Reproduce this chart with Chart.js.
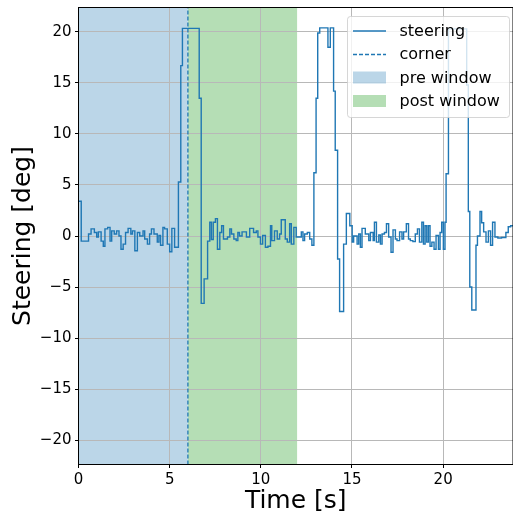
<!DOCTYPE html>
<html>
<head>
<meta charset="utf-8">
<script src="https://cdn.jsdelivr.net/npm/chart.js@4"></script>
<style>
  html, body { margin: 0; padding: 0; background: #fff; }
  #wrap { width: 513px; height: 519px; }
</style>
</head>
<body>
<div id="wrap"><canvas id="steerChart"></canvas></div>
<script>
// steering trace, held between samples (step plot)
const time = [
  0, 0.15, 0.55, 0.69, 0.87, 1.0, 1.09, 1.24, 1.36, 1.45,
  1.6, 1.73, 1.82, 1.96, 2.09, 2.22, 2.33, 2.45, 2.58, 2.72,
  2.87, 2.96, 3.09, 3.23, 3.36, 3.54, 3.63, 3.78, 3.9, 4.0,
  4.14, 4.32, 4.41, 4.5, 4.63, 4.72, 4.87, 5.0, 5.12, 5.27,
  5.48, 5.61, 5.7, 6.62, 6.73, 6.89, 7.08, 7.2, 7.29, 7.39,
  7.51, 7.62, 7.75, 7.85, 7.95, 8.17, 8.3, 8.39, 8.52, 8.65,
  8.74, 8.83, 8.97, 9.21, 9.39, 9.6, 9.75, 9.84, 9.98, 10.1,
  10.25, 10.39, 10.53, 10.6, 10.75, 10.9, 11.03, 11.12, 11.34, 11.45,
  11.58, 11.67, 11.81, 11.94, 12.22, 12.31, 12.4, 12.55, 12.68, 12.8,
  12.91, 13.03, 13.12, 13.23, 13.68, 13.81, 13.99, 14.08, 14.21, 14.32,
  14.54, 14.69, 14.88, 15.01, 15.09, 15.28, 15.37, 15.46, 15.55, 15.73,
  15.92, 16.01, 16.16, 16.23, 16.34, 16.47, 16.56, 16.65, 16.78, 16.89,
  17.01, 17.14, 17.25, 17.38, 17.47, 17.61, 17.74, 17.83, 17.98, 18.1,
  18.2, 18.34, 18.47, 18.59, 18.7, 18.83, 18.92, 19.01, 19.1, 19.19,
  19.28, 19.38, 19.5, 19.61, 19.74, 19.83, 19.92, 20.01, 20.1, 20.16,
  20.29, 21.29, 21.38, 21.46, 21.57, 21.8, 21.88, 22.02, 22.11, 22.22,
  22.35, 22.48, 22.6, 22.71, 22.84, 23.0, 23.2, 23.44, 23.57, 23.7,
];
const steering = [
  3.4, -0.5, 0.2, 0.7, 0.35, -0.1, 0.4, -0.5, -1.0, 0.7,
  0.85, -0.5, 0.5, 0.2, 0.5, 0, -1.3, -0.8, 0.35, 0.75,
  0.2, 0.5, -1.45, 0.35, 0, 0.5, -0.3, -0.8, 0.2, 0.7,
  0.2, -0.6, 0.05, -0.9, 0.85, 0.7, -0.8, -1.55, 0.75, -1.1,
  5.3, 16.7, 20.35, 13.5, -6.6, -4.2, -0.5, 1.35, -0.35, 1.35,
  1.7, -1.3, 0.35, 1.0, -0.3, -0.1, 0.7, 0.2, -0.3, -0.45,
  0.35, 0, 0.4, -0.1, 0.75, 0.35, 0.5, -0.1, -0.8, 0.05,
  -1.1, -1.0, 1.0, -0.45, 0.5, -0.3, 0.2, 1.6, -0.3, -0.6,
  1.2, -0.8, 0.85, -0.1, 0.4, -0.45, 0.2, 0.35, -0.3, -0.9,
  6.2, 13.5, 19.9, 20.4, 18.5, 20.4, 14.2, 8.4, -2.26, -7.4,
  -0.8, 2.2, 1.0, -0.6, 0, -0.8, 0.2, -1.1, 0.75, 0.2,
  -0.45, 0.35, -0.45, 1.35, -0.6, 0.1, -0.8, 0.2, 0.35, 1.2,
  -0.1, -1.6, 0.6, -0.3, -0.45, 0.4, -0.3, 0.4, 1.2, -0.3,
  -0.45, -0.55, 0.2, 0.7, -0.6, 1.35, -0.8, 1.0, -0.6, 1.0,
  -1.0, -0.6, -1.3, 0.05, -1.3, 0.35, 1.35, -1.3, 1.35, 6.1,
  20.3, 14.8, 2.4, -5.0, -7.25, -0.9, 0, 2.4, 1.3, 0.4,
  -0.6, 0.5, -0.9, 1.35, -0.1, -0.2, -0.15, 0.35, 0.9, 1.0,
];

const T_END       = 23.83;
const Y_LIM       = 22.4;
const cornerTime  = 6;
const preWindow   = [0, 6];
const postWindow  = [6, 12];

const BLUE  = '#1f77b4';
const FONT  = "'DejaVu Sans', sans-serif";

const steerPts = time.map((t, i) => ({ x: t, y: steering[i] }));
steerPts.push({ x: T_END, y: steering[steering.length - 1] });

const spanPts = ([a, b]) => [{ x: a, y: Y_LIM }, { x: b, y: Y_LIM }];
const minus   = v => (v < 0 ? '\u2212' + Math.abs(v) : String(v));

/* ---------- axes frame (all four spines) ---------- */
const spines = {
  id: 'spines',
  afterDatasetsDraw(chart) {
    const { ctx, chartArea: a } = chart;
    ctx.save();
    ctx.strokeStyle = '#000';
    ctx.lineWidth = 1;
    ctx.strokeRect(a.left, a.top, a.right - a.left, a.bottom - a.top);
    ctx.restore();
  },
};

/* ---------- legend box in the upper right ---------- */
const boxLegend = {
  id: 'boxLegend',
  afterDraw(chart) {
    const { ctx } = chart;
    const x = 347, y = 16, w = 162, h = 101, r = 3;
    ctx.save();
    ctx.beginPath();
    ctx.roundRect(x + 0.5, y + 0.5, w, h, r);
    ctx.fillStyle = 'rgba(255,255,255,0.8)';
    ctx.fill();
    ctx.strokeStyle = 'rgba(204,204,204,0.8)';
    ctx.lineWidth = 1;
    ctx.stroke();

    ctx.font = '16px ' + FONT;
    ctx.textBaseline = 'middle';
    ctx.fillStyle = '#000';
    chart.data.datasets.forEach((ds, i) => {
      const cy = 30.5 + i * 23.5;
      if (ds.fill) {
        ctx.fillStyle = ds.backgroundColor;
        ctx.fillRect(353, cy - 6, 33, 12);
      } else {
        ctx.beginPath();
        ctx.strokeStyle = ds.borderColor;
        ctx.lineWidth = ds.borderWidth;
        ctx.setLineDash(ds.borderDash || []);
        ctx.moveTo(353, cy + 0.5);
        ctx.lineTo(386, cy + 0.5);
        ctx.stroke();
        ctx.setLineDash([]);
      }
      ctx.fillStyle = '#000';
      ctx.fillText(ds.label, 399.5, cy + 1);
    });
    ctx.restore();
  },
};

new Chart(document.getElementById('steerChart'), {
  type: 'line',
  data: {
    datasets: [
      {
        label: 'steering',
        data: steerPts,
        stepped: 'before',
        borderColor: BLUE,
        borderWidth: 1.4,
        pointRadius: 0,
        fill: false,
      },
      {
        label: 'corner',
        data: [{ x: cornerTime, y: -Y_LIM }, { x: cornerTime, y: Y_LIM }],
        borderColor: BLUE,
        borderWidth: 1.3,
        borderDash: [4, 2],
        pointRadius: 0,
        fill: false,
      },
      {
        label: 'pre window',
        data: spanPts(preWindow),
        borderWidth: 0,
        pointRadius: 0,
        backgroundColor: 'rgba(31,119,180,0.3)',
        fill: 'start',
      },
      {
        label: 'post window',
        data: spanPts(postWindow),
        borderWidth: 0,
        pointRadius: 0,
        backgroundColor: 'rgba(44,160,44,0.35)',
        fill: 'start',
      },
    ],
  },
  options: {
    responsive: true,
    maintainAspectRatio: false,
    animation: false,
    layout: { padding: { top: 7.5, right: 0, bottom: 0, left: 0 } },
    plugins: {
      legend: { display: false },
      tooltip: { enabled: false },
      filler: { drawTime: 'beforeDraw' },
    },
    scales: {
      x: {
        type: 'linear',
        min: 0,
        max: T_END,
        grid: { color: '#b8b8b8', lineWidth: 1, tickColor: '#000', tickLength: 3.5 },
        border: { display: false },
        ticks: {
          stepSize: 5,
          includeBounds: false,
          padding: 3.5,
          maxRotation: 0,
          color: '#000',
          font: { family: FONT, size: 15 },
          callback: minus,
        },
        title: {
          display: true,
          text: 'Time [s]',
          color: '#000',
          font: { family: FONT, size: 25 },
          padding: { top: 0, bottom: 3 },
        },
        afterFit: s => { s.height = 54.5; s.paddingLeft = 0; s.paddingRight = 0; },
      },
      y: {
        type: 'linear',
        min: -Y_LIM,
        max: Y_LIM,
        grid: { color: '#b8b8b8', lineWidth: 1, tickColor: '#000', tickLength: 3.5 },
        border: { display: false },
        ticks: {
          stepSize: 5,
          includeBounds: false,
          padding: 3.5,
          color: '#000',
          font: { family: FONT, size: 15 },
          callback: minus,
        },
        title: {
          display: true,
          text: 'Steering [deg]',
          color: '#000',
          font: { family: FONT, size: 25 },
          padding: { top: 8.5, bottom: 0 },
        },
        afterFit: s => { s.width = 78.5; s.paddingTop = 0; s.paddingBottom = 0; },
      },
    },
  },
  plugins: [spines, boxLegend],
});
</script>
</body>
</html>
